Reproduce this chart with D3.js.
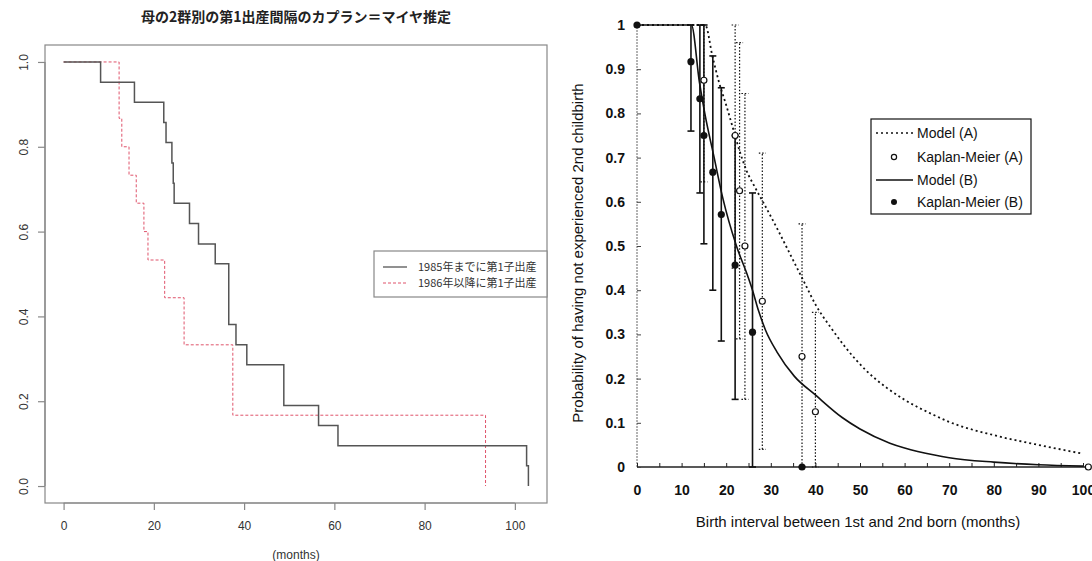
<!DOCTYPE html>
<html><head><meta charset="utf-8">
<script src="https://cdn.jsdelivr.net/npm/d3@7/dist/d3.min.js"></script>
<style>body{margin:0;background:#fff}svg{display:block}</style>
</head><body>
<svg id="c" width="1092" height="561"></svg>
<script>
// ---------- Left panel data ----------
const titleL = "母の2群別の第1出産間隔のカプラン＝マイヤ推定";
const xTicksL = [0, 20, 40, 60, 80, 100];
const yTicksL = [0, 0.2, 0.4, 0.6, 0.8, 1.0];
const xLabelL = "(months)";
const legendL = ["1985年までに第1子出産", "1986年以降に第1子出産"];
const g1Time = [0, 8.2, 15.7, 22.2, 22.7, 24.0, 24.3, 24.5, 27.9, 29.9, 33.6, 36.6, 38.2, 40.6, 48.8, 56.5, 60.8, 102.6, 103];
const g1Surv = [1, 0.952, 0.905, 0.857, 0.810, 0.762, 0.714, 0.667, 0.619, 0.571, 0.524, 0.381, 0.333, 0.286, 0.190, 0.143, 0.095, 0.048, 0];
const g2Time = [0, 12.3, 12.9, 14.5, 16.1, 17.8, 18.7, 22.4, 26.7, 37.5, 93.5];
const g2Surv = [1, 0.867, 0.8, 0.733, 0.667, 0.6, 0.533, 0.444, 0.333, 0.167, 0];

// ---------- Right panel data ----------
const xTicksR = [0,5,10,15,20,25,30,35,40,45,50,55,60,65,70,75,80,85,90,95,100];
const yTicksR = [0,0.1,0.2,0.3,0.4,0.5,0.6,0.7,0.8,0.9,1];
const xLabelR = "Birth interval between 1st and 2nd born (months)";
const yLabelR = "Probability of having not experienced 2nd childbirth";
const legendR = ["Model (A)", "Kaplan-Meier (A)", "Model (B)", "Kaplan-Meier (B)"];
const modelATime = [0,15.3,16.9,18.4,19.9,21.5,23,24.5,26.5,28.4,31.4,34.5,37.6,40,43.7,46.8,51.4,56,60,66.7,70,80,90,100];
const modelASurv = [1,1,0.93,0.87,0.822,0.767,0.715,0.672,0.632,0.597,0.54,0.478,0.416,0.368,0.312,0.27,0.218,0.179,0.152,0.117,0.102,0.072,0.05,0.03];
const modelBTime = [0,12.2,14,15.2,17.3,19.2,22.3,24.9,25.9,27.2,28.8,31.4,35.3,40,46,50,56.7,60,66.7,70,80,90,100];
const modelBSurv = [1,1,0.87,0.8,0.7,0.61,0.5,0.43,0.4,0.355,0.31,0.26,0.205,0.163,0.112,0.086,0.054,0.043,0.027,0.021,0.011,0.005,0.002];
const kmATime = [15.0,22.0,23.0,24.2,28.1,37.0,40.0,101.2];
const kmASurv = [0.875,0.75,0.625,0.5,0.375,0.25,0.125,0];
const kmBTime = [0,12.1,14.1,15.0,17.0,18.9,22.0,25.9,37.0];
const kmBSurv = [1,0.917,0.833,0.75,0.667,0.571,0.457,0.305,0];
const errBTime = [12.1,14.1,15.0,17.0,18.9,22.0,25.9];
const errBLo = [0.76,0.62,0.505,0.40,0.285,0.153,0];
const errBHi = [1,1,1,0.93,0.858,0.75,0.62];
const errATime = [15.0,22.0,23.0,24.2,28.1,37.0,40.0];
const errALo = [0.645,0.45,0.29,0.153,0.04,0,0];
const errAHi = [1,1,0.96,0.845,0.71,0.55,0.35];

const svg = d3.select("#c");
svg.append("rect").attr("width",1092).attr("height",561).attr("fill","#fff");

// ================= LEFT PANEL =================
const L = {l:45, r:547, t:45, b:503};
const xL = d3.scaleLinear().domain([-4.12, 107.12]).range([L.l, L.r]);
const yL = d3.scaleLinear().domain([-0.04, 1.04]).range([L.b, L.t]);
const gL = svg.append("g");
const fontL = "'Liberation Sans', Arial, sans-serif";
const cjk = "'Noto Sans CJK JP', 'Noto Sans CJK SC', sans-serif";

gL.append("text").attr("x", (L.l+L.r)/2).attr("y", 22).attr("text-anchor","middle")
  .attr("font-family", cjk).attr("font-weight","bold").attr("font-size",14).attr("fill","#222").text(titleL);

const axBL = gL.append("g").attr("transform",`translate(0,${L.b})`)
  .call(d3.axisBottom(xL).tickValues(xTicksL).tickSize(7).tickPadding(11).tickSizeOuter(0));
axBL.select(".domain").attr("d", `M${xL(0)},0H${xL(100)}`).attr("stroke","#888").attr("stroke-width",1.2);
axBL.selectAll("line").attr("stroke","#888").attr("stroke-width",1.2);
axBL.selectAll("text").attr("font-family",fontL).attr("font-size",12).attr("fill","#333");

const axLL = gL.append("g").attr("transform",`translate(${L.l},0)`)
  .call(d3.axisLeft(yL).tickValues(yTicksL).tickSize(7).tickFormat(d3.format(".1f")).tickSizeOuter(0));
axLL.select(".domain").attr("d", `M0,${yL(0)}V${yL(1)}`).attr("stroke","#888").attr("stroke-width",1.2);
axLL.selectAll("line").attr("stroke","#888").attr("stroke-width",1.2);
axLL.selectAll("text").attr("x",null).attr("dy",null).attr("text-anchor","middle")
  .attr("transform","translate(-17,0) rotate(-90)")
  .attr("font-family",fontL).attr("font-size",12).attr("fill","#333");

gL.append("rect").attr("x",L.l).attr("y",L.t).attr("width",L.r-L.l).attr("height",L.b-L.t)
  .attr("fill","none").attr("stroke","#888").attr("stroke-width",1.2);

gL.append("text").attr("x",(L.l+L.r)/2).attr("y",559).attr("text-anchor","middle")
  .attr("font-family",fontL).attr("font-size",12).attr("fill","#333").text(xLabelL);

const stepLine = d3.line().x(d=>xL(d[0])).y(d=>yL(d[1])).curve(d3.curveStepAfter);
gL.append("path").attr("d", stepLine(d3.zip(g2Time,g2Surv))).attr("fill","none")
  .attr("stroke","#DF536B").attr("stroke-width",1).attr("stroke-dasharray","3,2");
gL.append("path").attr("d", stepLine(d3.zip(g1Time,g1Surv))).attr("fill","none")
  .attr("stroke","#555").attr("stroke-width",1.5);

// legend
const lgL = gL.append("g");
lgL.append("rect").attr("x",374).attr("y",251).attr("width",L.r-374).attr("height",46)
  .attr("fill","#fff").attr("stroke","#888").attr("stroke-width",1.2);
[0,1].forEach(i=>{
  const yy = 267 + i*16;
  lgL.append("line").attr("x1",383).attr("x2",407).attr("y1",yy).attr("y2",yy)
    .attr("stroke", i===0?"#555":"#DF536B").attr("stroke-width", i===0?1.3:1)
    .attr("stroke-dasharray", i===0?null:"3,2");
  lgL.append("text").attr("x",418).attr("y",yy+4).attr("font-family",cjk).attr("font-size",11)
    .attr("fill","#333").text(legendL[i]);
});

// ================= RIGHT PANEL =================
const xR = d3.scaleLinear().domain([0,100]).range([637, 1083]);
const yR = d3.scaleLinear().domain([0,1]).range([467, 25]);
const gR = svg.append("g");
const fontR = "'Liberation Sans', Arial, Helvetica, sans-serif";

gR.append("line").attr("x1",xR(0)).attr("x2",xR(0)).attr("y1",yR(0)).attr("y2",yR(1))
  .attr("stroke","#666").attr("stroke-width",1).attr("stroke-dasharray","2,1");

const axBR = gR.append("g").attr("transform",`translate(0,${yR(0)})`)
  .call(d3.axisBottom(xR).tickValues(xTicksR).tickSize(-4).tickPadding(18).tickSizeOuter(0)
    .tickFormat(d => d % 10 === 0 ? String(d) : ""));
axBR.select(".domain").remove();
axBR.selectAll("line").attr("stroke","#222").attr("stroke-width",1);
axBR.selectAll("text").attr("font-family",fontR).attr("font-weight","bold").attr("font-size",14).attr("fill","#111");
gR.append("line").attr("x1",xR(0)).attr("x2",1090).attr("y1",yR(0)).attr("y2",yR(0))
  .attr("stroke","#222").attr("stroke-width",1.5);

const axLR = gR.append("g").attr("transform",`translate(${xR(0)},0)`)
  .call(d3.axisLeft(yR).tickValues(yTicksR).tickSize(-4).tickPadding(12).tickSizeOuter(0)
    .tickFormat(d => (d===0||d===1) ? String(d) : d3.format(".1f")(d)));
axLR.select(".domain").remove();
axLR.selectAll("line").attr("stroke","#444").attr("stroke-width",1);
axLR.selectAll("text").attr("font-family",fontR).attr("font-weight","bold").attr("font-size",14).attr("fill","#111");

gR.append("text").attr("x",858).attr("y",527).attr("text-anchor","middle")
  .attr("font-family",fontR).attr("font-size",15).attr("fill","#111").text(xLabelR);
gR.append("text").attr("transform","translate(583,253) rotate(-90)").attr("text-anchor","middle")
  .attr("font-family",fontR).attr("font-size",15).attr("fill","#111").text(yLabelR);

// error bars
const capW = 3.5;
function errBars(ts, lo, hi, dashed){
  ts.forEach((t,i)=>{
    const x = xR(t);
    const g = gR.append("g").attr("stroke","#111").attr("stroke-width", dashed?1.2:1.6)
      .attr("stroke-dasharray", dashed?"1.5,1.8":null);
    g.append("line").attr("x1",x).attr("x2",x).attr("y1",yR(lo[i])).attr("y2",yR(hi[i]));
    g.append("line").attr("x1",x-capW).attr("x2",x+capW).attr("y1",yR(lo[i])).attr("y2",yR(lo[i]));
    g.append("line").attr("x1",x-capW).attr("x2",x+capW).attr("y1",yR(hi[i])).attr("y2",yR(hi[i]));
  });
}
errBars(errATime, errALo, errAHi, true);
errBars(errBTime, errBLo, errBHi, false);

const curve = d3.line().x(d=>xR(d[0])).y(d=>yR(d[1])).curve(d3.curveMonotoneX);
gR.append("path").attr("d", curve(d3.zip(modelATime, modelASurv))).attr("fill","none")
  .attr("stroke","#111").attr("stroke-width",1.8).attr("stroke-dasharray","2,3");
gR.append("path").attr("d", curve(d3.zip(modelBTime, modelBSurv))).attr("fill","none")
  .attr("stroke","#111").attr("stroke-width",1.6);

gR.selectAll("circle.a").data(d3.zip(kmATime, kmASurv)).join("circle").attr("class","a")
  .attr("cx",d=>xR(d[0])).attr("cy",d=>yR(d[1])).attr("r",3)
  .attr("fill","#fff").attr("stroke","#111").attr("stroke-width",1.2);
gR.selectAll("circle.b").data(d3.zip(kmBTime, kmBSurv)).join("circle").attr("class","b")
  .attr("cx",d=>xR(d[0])).attr("cy",d=>yR(d[1])).attr("r",3.6).attr("fill","#111");

// legend
const lgR = gR.append("g");
lgR.append("rect").attr("x",871).attr("y",119).attr("width",160).attr("height",95)
  .attr("fill","#fff").attr("stroke","#111").attr("stroke-width",1.2);
const rowY = [133,157,180,202];
lgR.append("line").attr("x1",876).attr("x2",913).attr("y1",rowY[0]).attr("y2",rowY[0])
  .attr("stroke","#111").attr("stroke-width",1.6).attr("stroke-dasharray","2,3");
lgR.append("circle").attr("cx",894).attr("cy",rowY[1]).attr("r",2.6).attr("fill","#fff").attr("stroke","#111").attr("stroke-width",1.2);
lgR.append("line").attr("x1",876).attr("x2",913).attr("y1",rowY[2]).attr("y2",rowY[2])
  .attr("stroke","#111").attr("stroke-width",1.6);
lgR.append("circle").attr("cx",894).attr("cy",rowY[3]).attr("r",3).attr("fill","#111");
legendR.forEach((s,i)=>{
  lgR.append("text").attr("x",917).attr("y",rowY[i]+5).attr("font-family",fontR).attr("font-size",14)
    .attr("fill","#111").text(s);
});
</script>
</body></html>
